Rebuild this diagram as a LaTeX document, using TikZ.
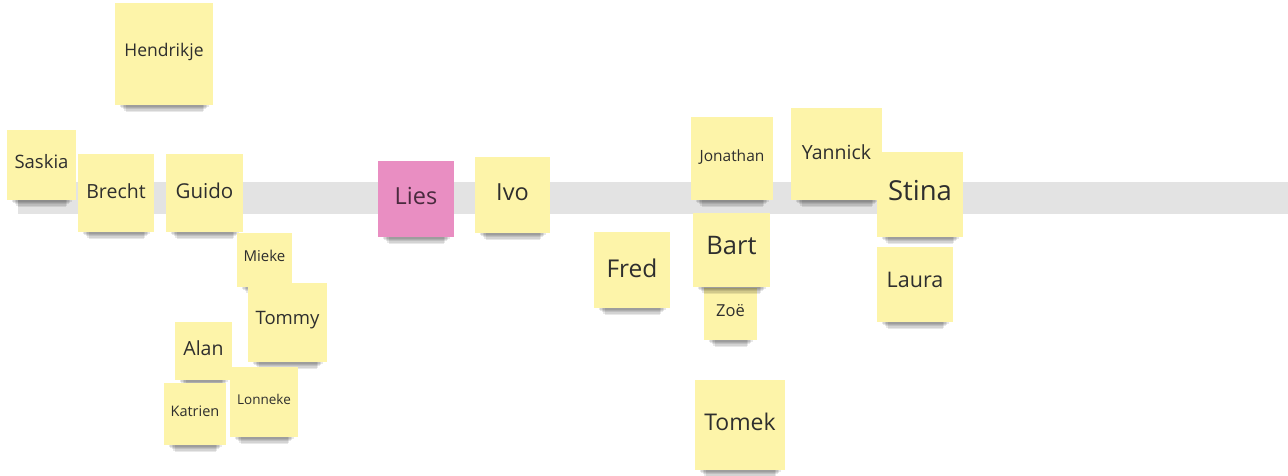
\documentclass[tikz,border=0pt]{standalone}
\usepackage{fontspec}
\setmainfont{Open Sans}
\definecolor{noteyellow}{HTML}{FDF4A9}
\definecolor{notepink}{HTML}{E98EC2}
\definecolor{bargray}{HTML}{E3E3E3}
\definecolor{inkgray}{HTML}{2E2E2E}
\definecolor{inkpink}{HTML}{4A2A3E}
\tikzset{
  notebox/.style={rectangle, fill=noteyellow, draw=none, inner sep=0pt},
  pinkbox/.style={rectangle, fill=notepink, draw=none, inner sep=0pt},
  notetext/.style={inner sep=0pt, text=inkgray, anchor=center},
  pinktext/.style={inner sep=0pt, text=inkpink, anchor=center},
}
% \sticky{name}{x1}{y1}{x2}{y2}{style}{textstyle}{size}{texty}
\newcommand{\sticky}[9]{%
  \foreach \i in {1,...,5}{%
    \fill[black, opacity=0.09] ({#2+3+1.5*\i},{#5-3}) rectangle ({#4-3-1.5*\i},{#5+0.5+1.3*\i});
  }
  \node[#6, minimum width={(#4-#2)*1pt}, minimum height={(#5-#3)*1pt}] (#1) at ({(#2+#4)/2},{(#3+#5)/2}) {};
  \node[#7, font=\fontsize{#8}{#8}\selectfont] (#1-t) at ({(#2+#4)/2},#9) {\stickytext};
}
\begin{document}
\begin{tikzpicture}[x=1pt,y=-1pt]
\useasboundingbox (0,0) rectangle (1288,476);
\fill[white] (0,0) rectangle (1288,476);
% gray band
\fill[bargray] (18,182) rectangle (1288,214);

\def\stickytext{Hendrikje}\sticky{hendrikje}{115}{3}{213}{105}{notebox}{notetext}{17.5}{52}
\def\stickytext{Saskia}\sticky{saskia}{7}{130}{76}{200}{notebox}{notetext}{18.5}{162}
\def\stickytext{Brecht}\sticky{brecht}{78}{154}{154}{232}{notebox}{notetext}{19.5}{191}
\def\stickytext{Guido}\sticky{guido}{166}{154}{243}{232}{notebox}{notetext}{20.5}{191}
\def\stickytext{Mieke}\sticky{mieke}{237}{233}{292}{287}{notebox}{notetext}{15}{256}
\def\stickytext{Tommy}\sticky{tommy}{248}{283}{327}{362}{notebox}{notetext}{18.5}{320}
\def\stickytext{Alan}\sticky{alan}{175}{322}{232}{380}{notebox}{notetext}{19.5}{348}
\def\stickytext{Katrien}\sticky{katrien}{164}{383}{226}{445}{notebox}{notetext}{14.5}{411}
\def\stickytext{Lonneke}\sticky{lonneke}{230}{367}{298}{437}{notebox}{notetext}{13.5}{399}
\def\stickytext{Lies}\sticky{lies}{378}{161}{454}{237}{pinkbox}{pinktext}{23.5}{196}
\def\stickytext{Ivo}\sticky{ivo}{475}{157}{550}{233}{notebox}{notetext}{23.5}{192}
\def\stickytext{Jonathan}\sticky{jonathan}{691}{117}{773}{200}{notebox}{notetext}{15.5}{157}
\def\stickytext{Fred}\sticky{fred}{594}{232}{670}{308}{notebox}{notetext}{24.5}{268}
\def\stickytext{Zoë}\sticky{zoe}{704}{288}{757}{340}{notebox}{notetext}{16.5}{311}
\def\stickytext{Bart}\sticky{bart}{693}{213}{770}{287}{notebox}{notetext}{25.5}{246}
\def\stickytext{Tomek}\sticky{tomek}{695}{380}{785}{470}{notebox}{notetext}{23}{422}
\def\stickytext{Yannick}\sticky{yannick}{791}{108}{882}{200}{notebox}{notetext}{19.5}{152}
\def\stickytext{Stina}\sticky{stina}{877}{152}{963}{237}{notebox}{notetext}{27.5}{191}
\def\stickytext{Laura}\sticky{laura}{877}{247}{953}{322}{notebox}{notetext}{21.5}{280}
\end{tikzpicture}
\end{document}
